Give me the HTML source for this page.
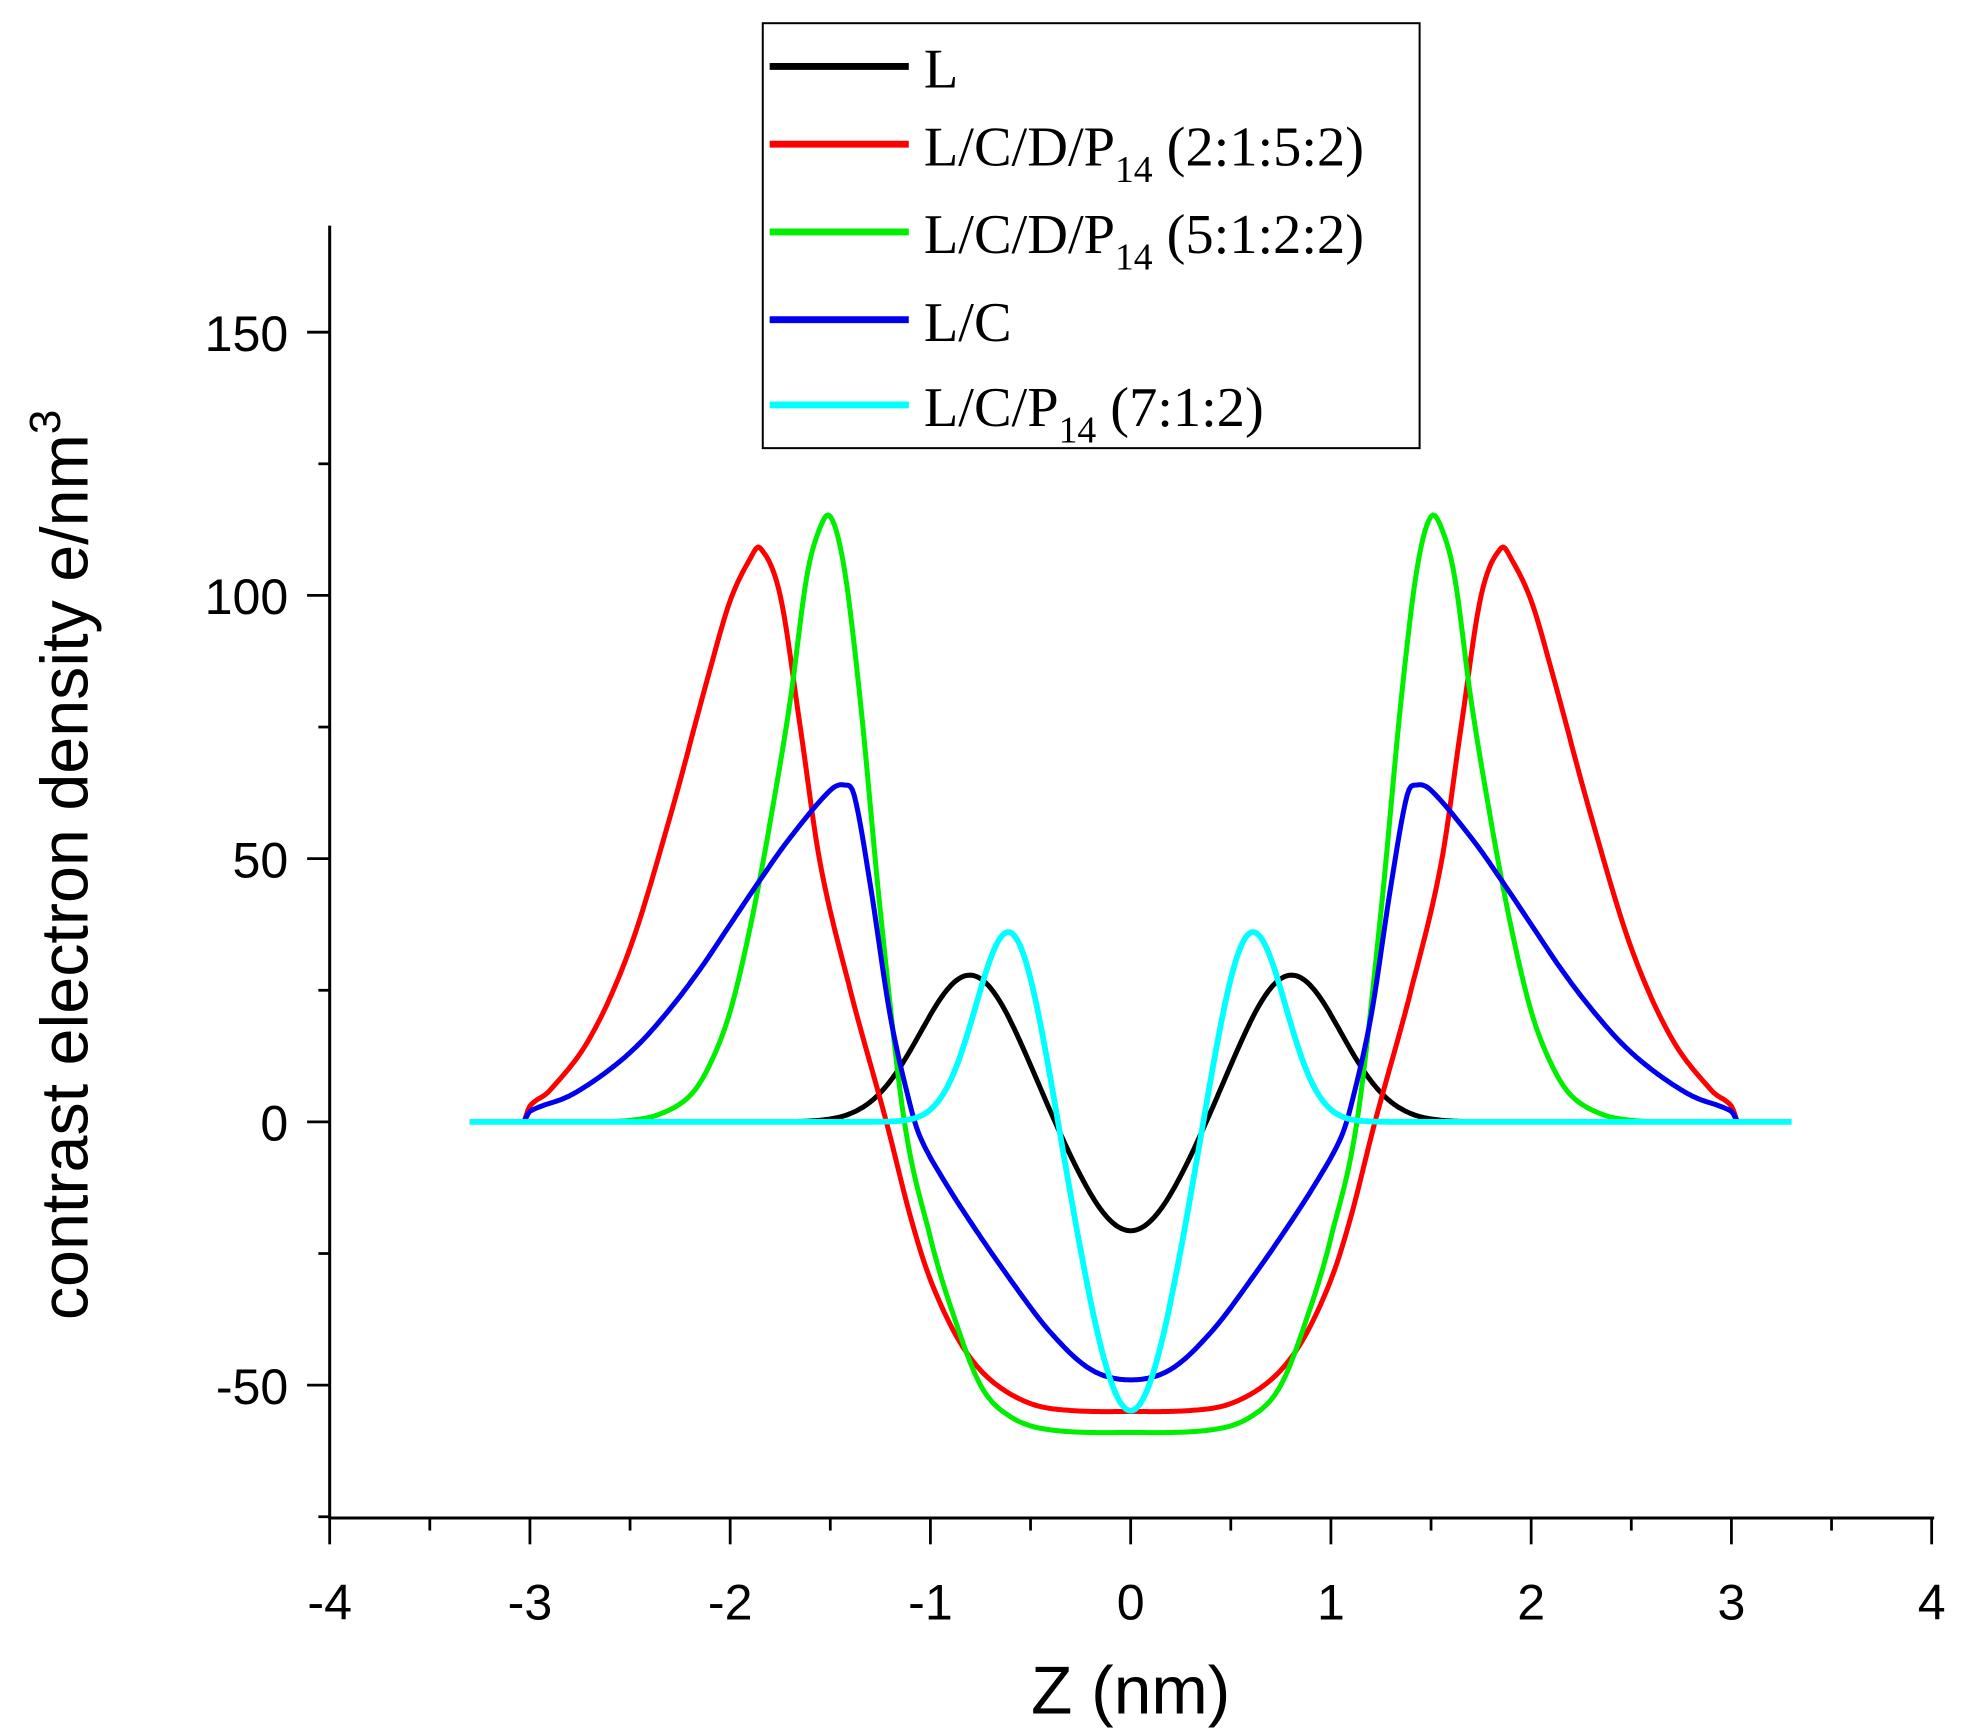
<!DOCTYPE html>
<html><head><meta charset="utf-8"><style>
html,body{margin:0;padding:0;background:#fff;}
svg{display:block;}
</style></head><body>
<svg id="s" width="1962" height="1733" viewBox="0 0 1565.2 1382.5" xmlns="http://www.w3.org/2000/svg">
<rect width="1565.2" height="1382.5" fill="#fff"/>
<g id="curves" fill="none" stroke-width="4" stroke-linejoin="round"></g>
<g stroke="#000" stroke-width="2.4" fill="none">
<line x1="263" y1="180" x2="263" y2="1212"/>
<line x1="262" y1="1211" x2="1543" y2="1211"/>
</g>
<g id="ticks" stroke="#000" stroke-width="2.2"></g>
<g font-family="Liberation Sans, sans-serif" font-size="40" fill="#000" text-anchor="end">
<text x="230" y="280">150</text>
<text x="230" y="490">100</text>
<text x="230" y="700">50</text>
<text x="230" y="910">0</text>
<text x="230" y="1120">-50</text>
</g>
<g id="xl" font-family="Liberation Sans, sans-serif" font-size="40" fill="#000" text-anchor="middle"></g>
<text x="902" y="1367" font-family="Liberation Sans, sans-serif" font-size="54" text-anchor="middle">Z (nm)</text>
<text transform="translate(70,690) rotate(-90)" font-family="Liberation Sans, sans-serif" font-size="53" text-anchor="middle">contrast electron density e/nm<tspan font-size="35" dy="-22">3</tspan></text>
<rect x="608.5" y="18.5" width="524" height="339" fill="#fff" stroke="#000" stroke-width="1.6"/>
<g stroke-width="5.5">
<line x1="614" y1="53" x2="725" y2="53" stroke="#000"/>
<line x1="614" y1="115" x2="725" y2="115" stroke="#ff0000"/>
<line x1="614" y1="185" x2="725" y2="185" stroke="#00ee00"/>
<line x1="614" y1="255" x2="725" y2="255" stroke="#0000ee"/>
<line x1="614" y1="323" x2="725" y2="323" stroke="#00ffff"/>
</g>
<g font-family="Liberation Serif, serif" font-size="45" fill="#000">
<text x="737" y="70">L</text>
<text x="737" y="132">L/C/D/P<tspan font-size="30" dy="13">14</tspan><tspan dy="-13"> (2:1:5:2)</tspan></text>
<text x="737" y="202">L/C/D/P<tspan font-size="30" dy="13">14</tspan><tspan dy="-13"> (5:1:2:2)</tspan></text>
<text x="737" y="272">L/C</text>
<text x="737" y="340">L/C/P<tspan font-size="30" dy="13">14</tspan><tspan dy="-13"> (7:1:2)</tspan></text>
</g>
</svg>
<script>
(function(){
var NS="http://www.w3.org/2000/svg";
function X(z){return 902+z*159.75;}
function Y(v){return 895-v*4.2;}
var t=document.getElementById('ticks'),xl=document.getElementById('xl');
function ln(x1,y1,x2,y2){var l=document.createElementNS(NS,'line');l.setAttribute('x1',x1);l.setAttribute('y1',y1);l.setAttribute('x2',x2);l.setAttribute('y2',y2);t.appendChild(l);}
for(var i=-8;i<=8;i++){var x=X(i/2);ln(x,1211,x,i%2==0?1232:1221);
 if(i%2==0){var tx=document.createElementNS(NS,'text');tx.setAttribute('x',x);tx.setAttribute('y',1292);tx.textContent=String(i/2);xl.appendChild(tx);}}
for(var v=-75;v<=150;v+=25){var y=Y(v);ln(v%50==0?245:254,y,263,y);}
function interp(pts,z){var a=Math.abs(z);if(a>=pts[pts.length-1][0])return pts[pts.length-1][1];
 for(var k=0;k<pts.length-1;k++){if(a>=pts[k][0]&&a<=pts[k+1][0]){
  var p0=pts[Math.max(k-1,0)],p1=pts[k],p2=pts[k+1],p3=pts[Math.min(k+2,pts.length-1)];
  var u=(a-p1[0])/(p2[0]-p1[0]);
  var m1=(p2[1]-p0[1])/(p2[0]-p0[0]||1)*(p2[0]-p1[0]);
  var m2=(p3[1]-p1[1])/(p3[0]-p1[0]||1)*(p2[0]-p1[0]);
  if(k==0)m1=0;
  var u2=u*u,u3=u2*u;
  return (2*u3-3*u2+1)*p1[1]+(u3-2*u2+u)*m1+(-2*u3+3*u2)*p2[1]+(u3-u2)*m2;}}
 return 0;}
function black(z){return 28*(Math.exp(-Math.pow(z-0.8,2)/0.125)+Math.exp(-Math.pow(z+0.8,2)/0.125))-21*Math.exp(-z*z/0.125);}
function cyan(z){return 37.3*(Math.exp(-Math.pow(z-0.6,2)/0.0578)+Math.exp(-Math.pow(z+0.6,2)/0.0578))-55*Math.exp(-z*z/0.0968);}
var red=[[0,-55],[0.3,-54.8],[0.5,-53.5],[0.7,-49],[0.85,-42],[1.0,-30],[1.1,-18],[1.22,0],[1.4,25],[1.55,49],[1.65,75],[1.75,100],[1.85,109],[1.9,107],[2.0,99],[2.1,86],[2.3,58],[2.5,33],[2.7,16],[2.9,6],[3.0,3],[3.03,0]];
var green=[[0,-59],[0.4,-58.5],[0.6,-56],[0.75,-50],[0.9,-35],[1.0,-22],[1.13,0],[1.25,40],[1.35,80],[1.43,105],[1.5,115],[1.56,112],[1.62,103],[1.7,80],[1.8,57],[1.9,37],[2.0,21],[2.1,11],[2.2,5],[2.35,1.5],[2.5,0.3],[2.7,0],[3.3,0]];
var blue=[[0,-49],[0.2,-47],[0.4,-40],[0.6,-30],[0.8,-19],[0.95,-10],[1.05,-3],[1.1,3],[1.2,20],[1.3,45],[1.38,62],[1.43,64],[1.5,63],[1.7,54],[1.85,46],[2.0,37.5],[2.15,29],[2.3,21.5],[2.45,15],[2.6,10],[2.8,5],[3.0,2],[3.03,0]];
var g=document.getElementById('curves');
function draw(f,z0,z1,col,w){var d='';for(var z=z0;z<=z1+1e-9;z+=0.01){d+=(d?'L':'M')+X(z).toFixed(1)+','+Y(f(z)).toFixed(1);}
 var p=document.createElementNS(NS,'path');p.setAttribute('d',d);p.setAttribute('stroke',col);if(w)p.setAttribute('stroke-width',w);g.appendChild(p);}
draw(black,-3.3,3.3,'#000');
draw(function(z){return interp(red,z);},-3.03,3.03,'#ff0000');
draw(function(z){return interp(green,z);},-3.0,3.0,'#00ee00');
draw(function(z){return interp(blue,z);},-3.03,3.03,'#0000ee');
draw(cyan,-3.3,3.3,'#00ffff',4.6);
})();
</script>
</body></html>
